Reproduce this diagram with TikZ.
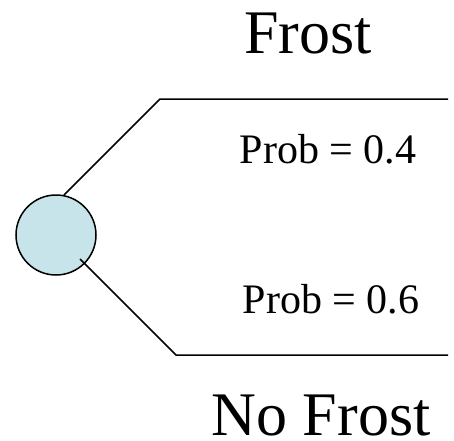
\documentclass[tikz,border=0pt]{standalone}
\usepackage{fontspec}
\setmainfont{Liberation Serif}
\usetikzlibrary{calc}
\definecolor{chance}{RGB}{198,228,233}
\begin{document}
\begin{tikzpicture}[x=1pt,y=-1pt,line width=1.5pt,
  big/.style={anchor=base,inner sep=0pt,font=\fontsize{62}{62}\selectfont},
  prob/.style={anchor=base,inner sep=0pt,font=\fontsize{42}{42}\selectfont}]
\useasboundingbox (0,0) rectangle (454,440);
\node[circle,draw,fill=chance,minimum size=80pt,inner sep=0pt] (c) at (56,235) {};
\coordinate (a0) at (64,195);
\coordinate (a1) at (160,99);
\coordinate (a2) at (448,99);
\coordinate (b0) at (80,259);
\coordinate (b1) at (176,355);
\coordinate (b2) at (448,355);
\draw (a0) -- (a1) -- (a2);
\draw (b0) -- (b1) -- (b2);
\node[big] (frost) at (308,53) {Frost};
\node[prob] (p4) at (328,163) {Prob = 0.4};
\node[prob] (p6) at (331,313) {Prob = 0.6};
\node[big] (nofrost) at (321,435) {No Frost};
\end{tikzpicture}
\end{document}
